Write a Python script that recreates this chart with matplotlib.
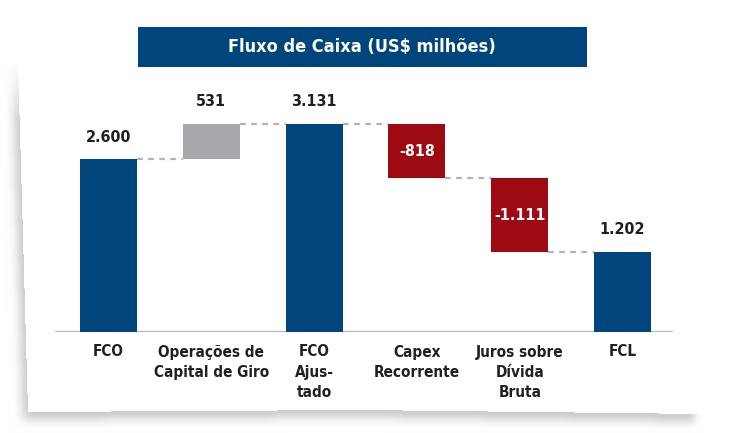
import numpy as np
import matplotlib
matplotlib.use("Agg")
import matplotlib.pyplot as plt
from matplotlib.path import Path
from matplotlib.patches import Rectangle

# ---- data ----
categories = ["FCO", "Operações de\nCapital de Giro", "FCO\nAjus-\ntado",
              "Capex\nRecorrente", "Juros sobre\nDívida\nBruta", "FCL"]
values = [2600, 531, 3131, -818, -1111, 1202]
kinds = ["total", "delta", "total", "delta", "delta", "total"]
value_labels = ["2.600", "531", "3.131", "-818", "-1.111", "1.202"]
title = "Fluxo de Caixa (US$ milhões)"

BLUE = "#00457C"
GREY = "#A7A9AC"
RED = "#9E0A12"
INK = "#231F20"
DASH = "#B4B4B4"

plt.rcParams["font.family"] = ["DejaVu Sans"]
STRETCH = "condensed"

W, H = 729, 433
fig = plt.figure(figsize=(W / 100, H / 100), dpi=100)
fig.patch.set_facecolor("white")


def blur(a, sigma):
    r = int(3 * sigma)
    k = np.exp(-0.5 * (np.arange(-r, r + 1) / sigma) ** 2)
    k /= k.sum()
    a = np.apply_along_axis(lambda v: np.convolve(v, k, mode="same"), 0, a)
    return np.apply_along_axis(lambda v: np.convolve(v, k, mode="same"), 1, a)


# paper card with a soft shadow on the left and bottom
yy, xx = np.mgrid[0:H, 0:W]
pts = np.column_stack([xx.ravel() + 0.5, yy.ravel() + 0.5])
card = [(18, 62), (28, 412), (360, 410), (702, 414), (712, 30), (18, 30)]
card_mask = Path(card).contains_points(pts).reshape(H, W).astype(float)
shadow = Path([(x - 5, y + 7) for x, y in card]).contains_points(pts).reshape(H, W).astype(float)
shadow = blur(shadow, 5.0)
fade = np.clip((yy - 62) / 60.0, 0, 1) * np.clip((703 - xx) / 12.0, 0, 1)
dark = 0.22 * shadow * (1 - card_mask) * fade
img = np.ones((H, W, 3)) * (1 - dark)[..., None]
fig.figimage(img, 0, 0, origin="upper", zorder=-5)

# title banner
fig.add_artist(Rectangle((138 / W, 1 - 67 / H), (587 - 138) / W, 40 / H,
                         transform=fig.transFigure, facecolor=BLUE, edgecolor="none", zorder=2))
fig.text(362 / W, 1 - 47 / H, title, color="white", fontsize=13, fontweight="bold",
         fontstretch=STRETCH, ha="center", va="center", zorder=3)

# chart area, baseline at y=332 px
ax = fig.add_axes([55 / W, (H - 332) / H, (673 - 55) / W, (332 - 75) / H])
ax.patch.set_alpha(0)
ax.set_xlim(-0.52, 5.49)
ax.set_ylim(0, 3131 * 257 / 208)
for s in ax.spines.values():
    s.set_visible(False)
ax.set_yticks([])

width = 0.555
x = np.arange(len(values))
bottoms, heights, colors, ends = [], [], [], []
running = 0
for v, k in zip(values, kinds):
    if k == "total":
        bottoms.append(0)
        heights.append(v)
        colors.append(BLUE)
        running = v
    else:
        bottoms.append(running if v > 0 else running + v)
        heights.append(abs(v))
        colors.append(GREY if v > 0 else RED)
        running += v
    ends.append(running)

ax.bar(x, heights, width, bottom=bottoms, color=colors, zorder=3)
ax.axhline(0, color="#B5B5B5", lw=1.6, zorder=2)

for i in range(len(values) - 1):
    ax.plot([x[i] + width / 2, x[i + 1] - width / 2], [ends[i], ends[i]],
            color=DASH, lw=1.6, ls=(0, (2.6, 2.4)), zorder=2)

for i, (v, lab) in enumerate(zip(values, value_labels)):
    if v > 0:
        ax.annotate(lab, (x[i], bottoms[i] + heights[i]), xytext=(0, 16), textcoords="offset points",
                    ha="center", va="center", fontsize=11.5, fontweight="bold",
                    fontstretch=STRETCH, color=INK)
    else:
        ax.text(x[i], bottoms[i] + heights[i] / 2, lab, ha="center", va="center",
                fontsize=11.5, fontweight="bold", fontstretch=STRETCH, color="white", zorder=4)

ax.set_xticks(x)
ax.set_xticklabels(categories, fontsize=11, fontweight="bold", fontstretch=STRETCH,
                   color=INK, linespacing=1.45)
ax.tick_params(axis="x", length=0, pad=9)

fig.savefig("out.png", dpi=100, facecolor="white")
